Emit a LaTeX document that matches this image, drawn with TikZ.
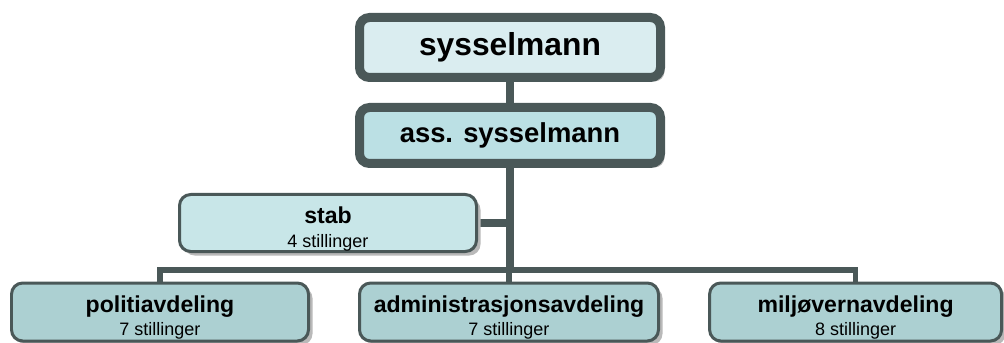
\documentclass[tikz,border=0pt]{standalone}
\usepackage{fontspec}
\setmainfont{Liberation Sans}
\usetikzlibrary{shadows,backgrounds}
\definecolor{rim}{RGB}{74,88,88}
\definecolor{shade}{RGB}{185,185,185}
\definecolor{topfill}{RGB}{218,237,240}
\definecolor{assfill}{RGB}{187,224,228}
\definecolor{stabfill}{RGB}{200,230,232}
\definecolor{unitfill}{RGB}{172,208,210}
\newcommand{\headfont}{\fontsize{16.4}{18}\bfseries\rule{0pt}{20pt}}
\newcommand{\countfont}{\fontsize{12.8}{14}\selectfont}
\begin{document}
\begin{tikzpicture}
  \tikzset{
    boss/.style={draw=rim,line width=0.225cm,rounded corners=0.25cm,
      minimum width=7.525cm,inner sep=0pt,
      drop shadow={shadow xshift=0.1cm,shadow yshift=-0.1cm,fill=shade,opacity=1}},
    unit/.style={draw=rim,line width=0.075cm,rounded corners=0.28cm,
      minimum width=7.425cm,minimum height=1.45cm,inner sep=0pt,align=center,
      fill=unitfill,
      drop shadow={shadow xshift=0.1cm,shadow yshift=-0.1cm,fill=shade,opacity=1}},
    link/.style={draw=rim,line width=0.18cm},
    branch/.style={draw=rim,line width=0.13cm}
  }
  \useasboundingbox (0,0) rectangle (25.1,-8.575);

  %LEADERS
  \node[boss,fill=topfill,minimum height=1.5cm,font=\fontsize{22.6}{26}\bfseries]
    (chief) at (12.75,-1.1875) {sysselmann};
  \node[boss,fill=assfill,minimum height=1.4cm,font=\fontsize{19.5}{22}\bfseries]
    (deputy) at (12.75,-3.3875) {ass. sysselmann};

  %STAFF
  \node[unit,fill=stabfill,minimum height=1.425cm] (stab) at (8.2,-5.575)
    {{\headfont stab}\\[5pt]{\countfont 4 stillinger}};

  %DEPARTMENTS
  \node[unit] (politi) at (4.0,-7.8)
    {{\headfont politiavdeling}\\[3pt]{\countfont 7 stillinger}};
  \node[unit,minimum width=7.475cm] (admin) at (12.725,-7.8)
    {{\headfont administrasjonsavdeling}\\[3pt]{\countfont 7 stillinger}};
  \node[unit,minimum width=7.3cm] (miljo) at (21.39,-7.8)
    {{\headfont miljøvernavdeling}\\[3pt]{\countfont 8 stillinger}};

  \coordinate (hub) at (12.75,-6.75);

  \begin{scope}[on background layer]
    \draw[link] (chief.south) -- (deputy.north);
    \draw[link] (deputy.south) -- (hub);
    \draw[link] (stab.east) -- (stab.east -| hub);
    \draw[branch] (politi.north) |- (hub) -| (miljo.north);
    \draw[branch] (admin.north |- hub) -- (admin.north);
  \end{scope}
\end{tikzpicture}
\end{document}
